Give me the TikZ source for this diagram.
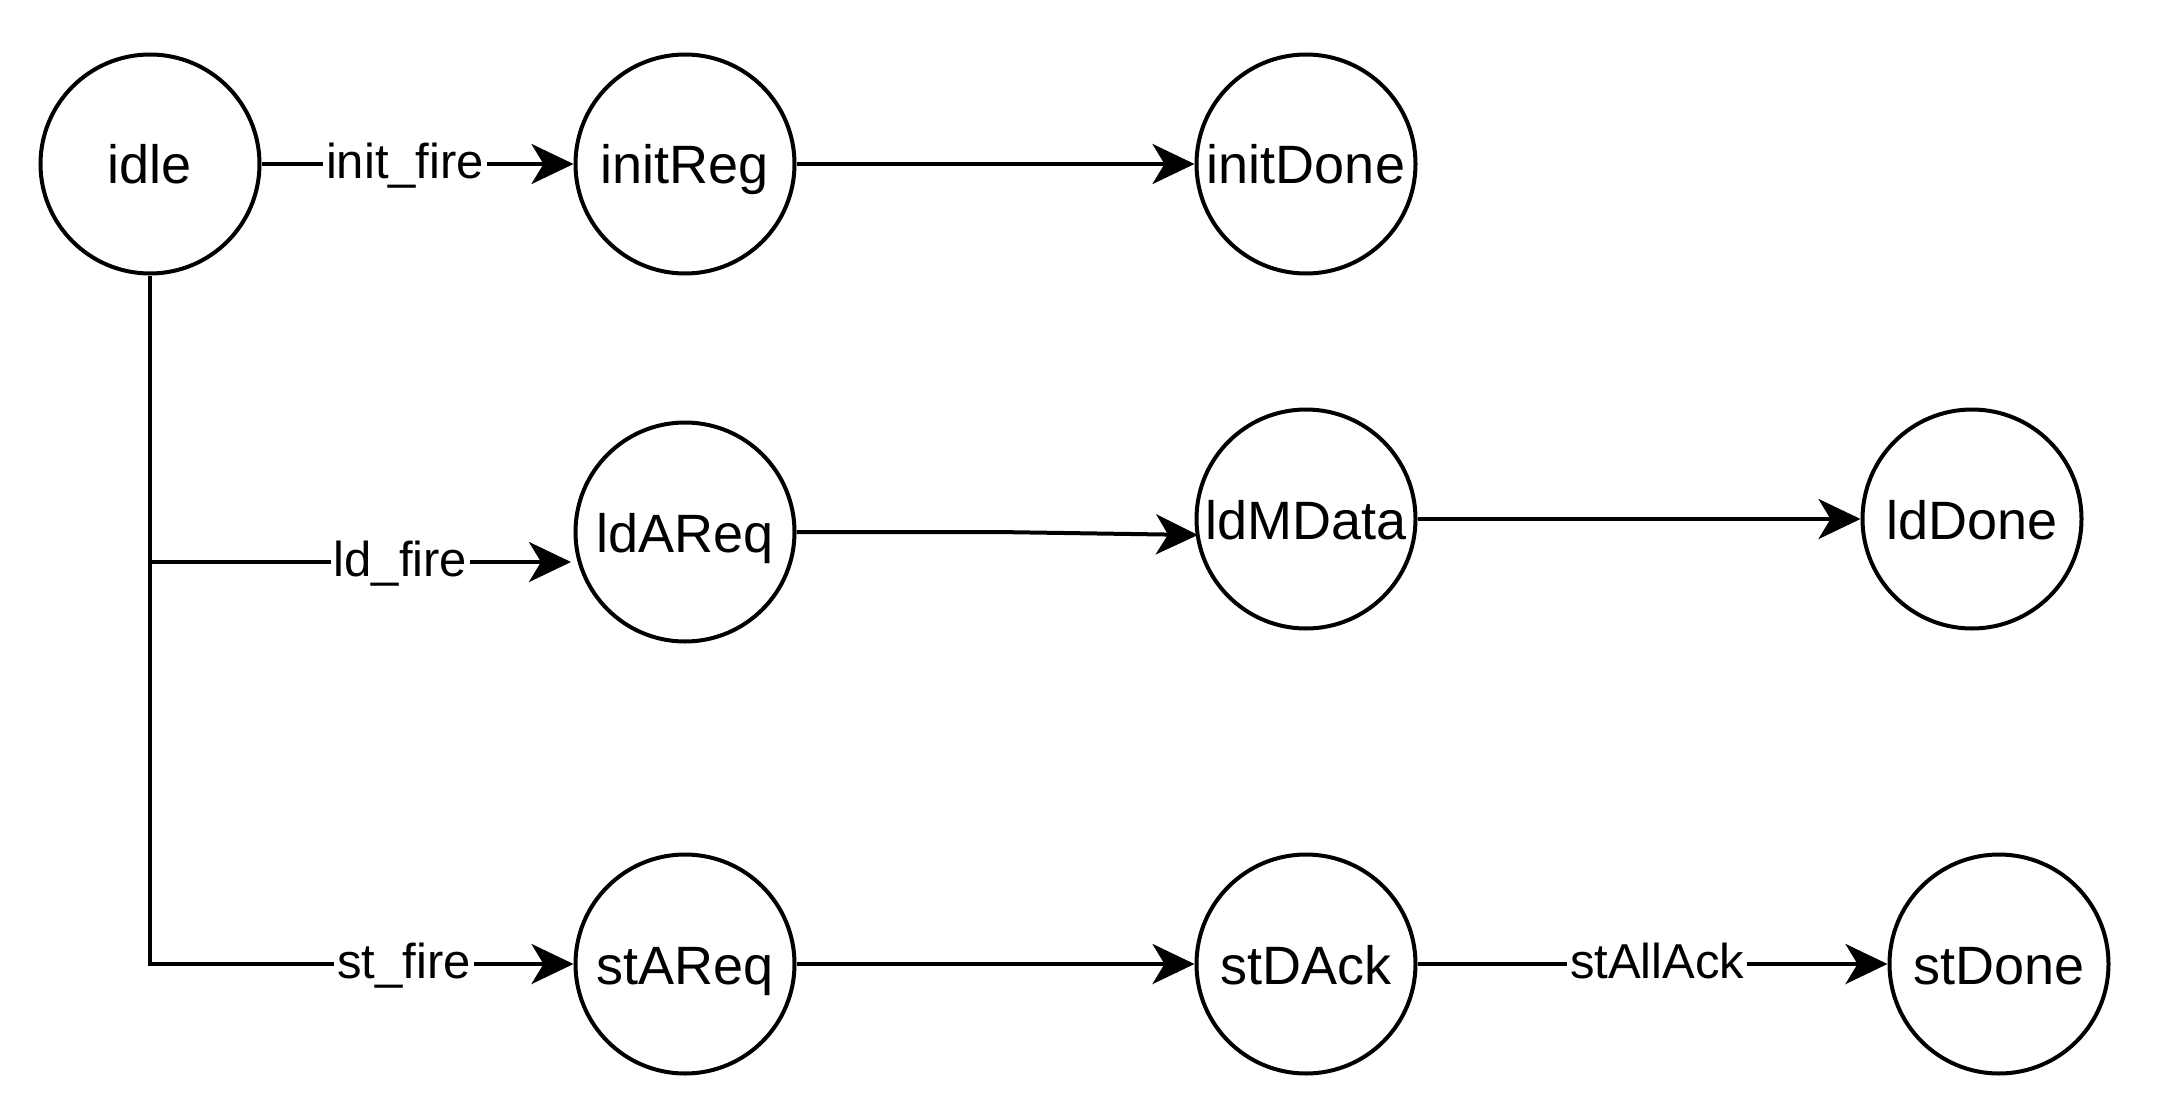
\documentclass[tikz,border=0pt]{standalone}
\usepackage{fontspec}
\setmainfont{Liberation Sans}
\usetikzlibrary{arrows.meta}
\begin{document}
\begin{tikzpicture}[x=1pt,y=-1pt,
  state/.style={circle,draw,line width=4pt,minimum size=219pt,inner sep=0pt,text height=40pt,text depth=0pt,font=\fontsize{54}{60}\selectfont},
  conn/.style={line width=4pt,-{Stealth[length=42pt,width=40pt,inset=12pt]}},
  lbl/.style={fill=white,inner sep=3pt,text height=36pt,text depth=7pt,font=\fontsize{49}{56}\selectfont}]
\useasboundingbox (0,0) rectangle (2178,1110);
\node[state] (idle) at (150,164) {idle};
\node[state] (initReg) at (685,164) {initReg};
\node[state] (initDone) at (1306,164) {initDone};
\node[state] (ldAReq) at (685,532) {ldAReq};
\node[state] (ldMData) at (1306,519) {ldMData};
\node[state] (ldDone) at (1972,519) {ldDone};
\node[state] (stAReq) at (685,964) {stAReq};
\node[state] (stDAck) at (1306,964) {stDAck};
\node[state] (stDone) at (1999,964) {stDone};
\coordinate (ldj) at (150,562);
\coordinate (ldin) at (571,562);
\coordinate (ldbend) at (997,532);
\coordinate (ldmin) at (1198,535);
\draw[conn] (idle) -- node[lbl,pos=0.46] {init\_fire} (initReg);
\draw[conn] (initReg) -- (initDone);
\draw[conn] (ldj) -- node[lbl,pos=0.595] {ld\_fire} (ldin);
\draw[conn] (idle.south) |- node[lbl,pos=0.8] {st\_fire} (stAReq.west);
\draw[conn] (ldAReq.east) -- (ldbend) -- (ldmin);
\draw[conn] (ldMData) -- (ldDone);
\draw[conn] (stAReq) -- (stDAck);
\draw[conn] (stDAck) -- node[lbl,pos=0.51] {stAllAck} (stDone);
\end{tikzpicture}
\end{document}
